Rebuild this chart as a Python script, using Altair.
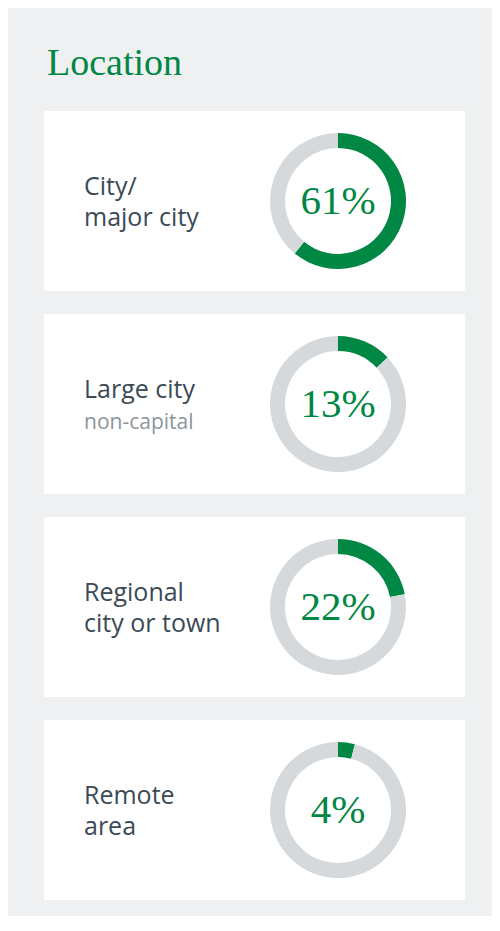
import altair as alt
import pandas as pd
import math

# ---- data ----
order = [0, 1, 2, 3]
line1 = ["City/", "Large city", "Regional", "Remote"]
line2 = ["major city", "non-capital", "city or town", "area"]
is_note = [False, True, False, False]
pct = [61, 13, 22, 4]

GREEN = "#008744"
RING = "#d6d9dc"
BG = "#eff0f2"
DARK = "#3b4a55"
NOTE = "#8c959c"

df = pd.DataFrame({
    "order": order,
    "line1": line1,
    "line2": line2,
    "note": is_note,
    "pct": pct,
})

W, H = 421, 180
CX, CY = 294, 90

arcs = (
    alt.Chart()
    .transform_calculate(rest="100 - datum.pct")
    .transform_fold(["pct", "rest"], as_=["part", "value"])
    .transform_calculate(
        t0="datum.part == 'pct' ? 0 : datum.pct",
        t1="datum.part == 'pct' ? datum.pct : 100",
    )
    .mark_arc(outerRadius=68, innerRadius=53, strokeWidth=0)
    .encode(
        theta=alt.Theta("t0:Q", scale=alt.Scale(domain=[0, 100], range=[0, 2 * math.pi])),
        theta2="t1:Q",
        color=alt.Color("part:N", scale=alt.Scale(domain=["pct", "rest"], range=[GREEN, RING]), legend=None),
        x=alt.value(CX),
        y=alt.value(CY),
    )
)

pct_text = (
    alt.Chart()
    .transform_calculate(lbl="datum.pct + '%'")
    .mark_text(font="Liberation Serif", fontSize=41, align="center", baseline="middle", color=GREEN)
    .encode(text="lbl:N", x=alt.value(CX), y=alt.value(CY + 1))
)

t1 = (
    alt.Chart()
    .mark_text(font="Open Sans", fontSize=25, align="left", baseline="alphabetic", color=DARK)
    .encode(text="line1:N", x=alt.value(40), y=alt.value(84))
)

t2 = (
    alt.Chart()
    .mark_text(font="Open Sans", align="left", baseline="alphabetic")
    .encode(
        text="line2:N",
        x=alt.value(40),
        y=alt.value(115),
        color=alt.condition("datum.note", alt.value(NOTE), alt.value(DARK)),
        size=alt.condition("datum.note", alt.value(21), alt.value(25)),
    )
)

layer = alt.layer(arcs, pct_text, t1, t2, data=df).properties(width=W, height=H)

chart = (
    layer.facet(
        row=alt.Row("order:O", title=None, header=alt.Header(labels=False, labelPadding=0, titlePadding=0)),
        spacing=23,
    )
    .properties(
        title=alt.TitleParams(
            "Location",
            anchor="start",
            font="Liberation Serif",
            fontSize=38,
            fontWeight="normal",
            color=GREEN,
            offset=28,
            dx=3,
        ),
        background=BG,
        padding={"left": 36, "top": 37, "right": 27, "bottom": 16},
    )
    .configure_view(fill="white", strokeWidth=0)
)

chart.save("out.html", embed_options={"renderer": "svg", "actions": False})
